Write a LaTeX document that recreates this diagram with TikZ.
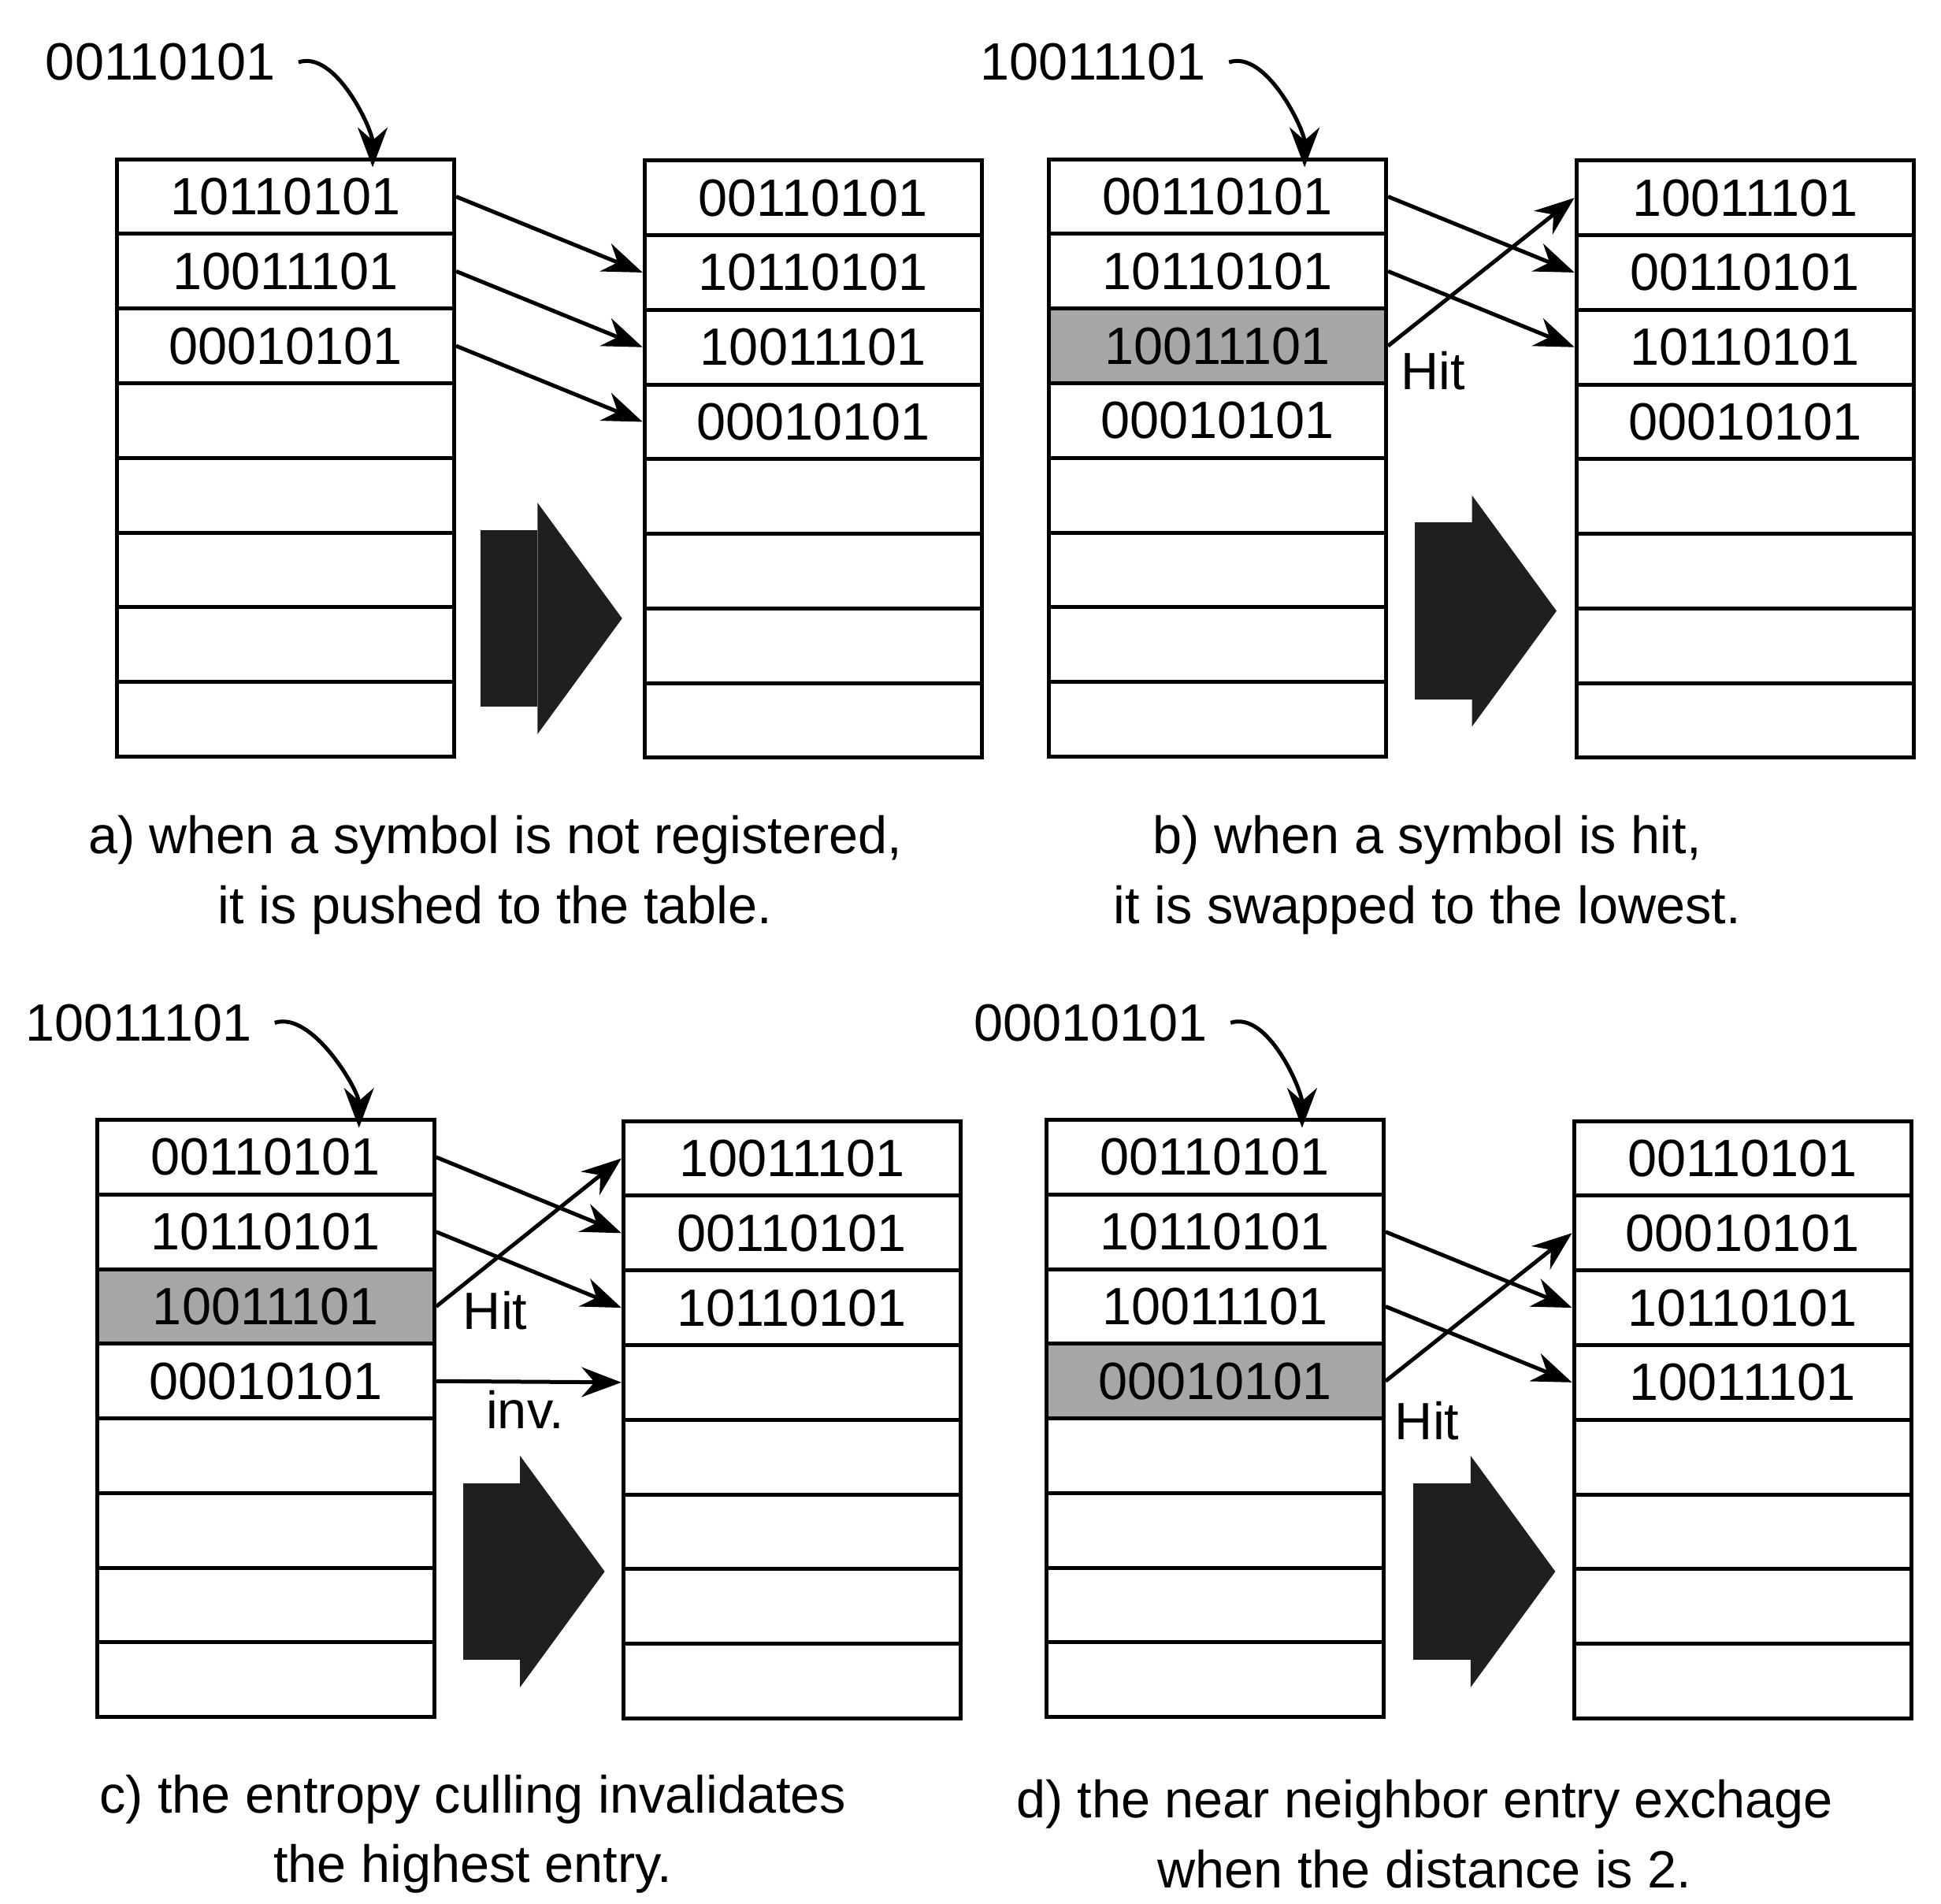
\documentclass[tikz,border=0pt]{standalone}
\usepackage{fontspec}
\setmainfont{Liberation Sans}
\usetikzlibrary{arrows.meta}
\begin{document}
\begin{tikzpicture}[x=0.1mm,y=-0.1mm,
  cell/.style={draw,line width=0.9pt,minimum width=27.1mm,minimum height=6mm,inner sep=0,font=\fontsize{12}{14}\selectfont},
  hit/.style={fill=black!35},
  arr/.style={-{Stealth[length=3.2mm,width=2.4mm]},line width=0.9pt},
  big/.style={fill=black!88,draw=none},
  lbl/.style={font=\fontsize{12}{14}\selectfont,inner sep=0},
  captxt/.style={font=\fontsize{12}{16}\selectfont,align=center}]
\useasboundingbox (0,0) rectangle (1560,1530);
\newcommand\mytable[5]{%
  \foreach \t [count=\i] in {#4}{
    \ifnum\i=#5\relax
      \node[cell,hit] (#1\i) at ({#2+135.5},{#3+30+60*(\i-1)}) {\t};
    \else
      \node[cell] (#1\i) at ({#2+135.5},{#3+30+60*(\i-1)}) {\t};
    \fi}}
\newcommand\bigarrow[2]{%
  \fill[big] (#1,{#2-71}) rectangle ({#1+46},{#2+71});
  \fill[big] ({#1+46},{#2-93}) -- ({#1+114},#2) -- ({#1+46},{#2+93}) -- cycle;}
% ---- a
\mytable{aL}{94}{128}{10110101,10011101,00010101,{},{},{},{},{}}{0}
\mytable{aR}{518}{129}{00110101,10110101,10011101,00010101,{},{},{},{}}{0}
\node[lbl,anchor=west] (la) at (36,50) {00110101};
\draw[arr] ([xshift=1.8mm]la.east) .. controls +(30,-10) and +(0,-30) .. ([xshift=7mm,yshift=-0.8mm]aL1.north);
\draw[arr] (aL1.east) -- (aR2.west);
\draw[arr] (aL2.east) -- (aR3.west);
\draw[arr] (aL3.east) -- (aR4.west);
\bigarrow{386}{497}
\node[captxt] (ca) at (398,703) {a) when a symbol is not registered,\\it is pushed to the table.};
% ---- b
\mytable{bL}{843}{128}{00110101,10110101,10011101,00010101,{},{},{},{}}{3}
\mytable{bR}{1267}{129}{10011101,00110101,10110101,00010101,{},{},{},{}}{0}
\node[lbl,anchor=west] (lb) at (787,50) {10011101};
\draw[arr] ([xshift=1.8mm]lb.east) .. controls +(30,-10) and +(0,-30) .. ([xshift=7mm,yshift=-0.8mm]bL1.north);
\draw[arr] (bL1.east) -- (bR2.west);
\draw[arr] (bL2.east) -- (bR3.west);
\draw[arr] (bL3.east) -- (bR1.west);
\node[lbl] (hb) at (1152,298) {Hit};
\bigarrow{1137}{491}
\node[captxt] (cb) at (1147,703) {b) when a symbol is hit,\\it is swapped to the lowest.};
% ---- c
\mytable{cL}{78}{900}{00110101,10110101,10011101,00010101,{},{},{},{}}{3}
\mytable{cR}{501}{901}{10011101,00110101,10110101,{},{},{},{},{}}{0}
\node[lbl,anchor=west] (lc) at (20,822) {10011101};
\draw[arr] ([xshift=1.8mm]lc.east) .. controls +(30,-10) and +(0,-30) .. ([xshift=7.5mm,yshift=-0.8mm]cL1.north);
\draw[arr] (cL1.east) -- (cR2.west);
\draw[arr] (cL2.east) -- (cR3.west);
\draw[arr] (cL3.east) -- (cR1.west);
\draw[arr] (cL4.east) -- (cR4.west);
\node[lbl] (hc) at (398,1053) {Hit};
\node[lbl] (ic) at (422,1133) {inv.};
\bigarrow{372}{1263}
\node[captxt] (cc) at (380,1474) {c) the entropy culling invalidates\\the highest entry.};
% ---- d
\mytable{dL}{841}{900}{00110101,10110101,10011101,00010101,{},{},{},{}}{4}
\mytable{dR}{1265}{901}{00110101,00010101,10110101,10011101,{},{},{},{}}{0}
\node[lbl,anchor=west] (ld) at (782,822) {00010101};
\draw[arr] ([xshift=1.8mm]ld.east) .. controls +(30,-10) and +(0,-30) .. ([xshift=7mm,yshift=-0.8mm]dL1.north);
\draw[arr] (dL2.east) -- (dR3.west);
\draw[arr] (dL3.east) -- (dR4.west);
\draw[arr] (dL4.east) -- (dR2.west);
\node[lbl] (hd) at (1147,1142) {Hit};
\bigarrow{1136}{1263}
\node[captxt] (cd) at (1145,1474) {d) the near neighbor entry exchage\\when the distance is 2.};
\end{tikzpicture}
\end{document}
